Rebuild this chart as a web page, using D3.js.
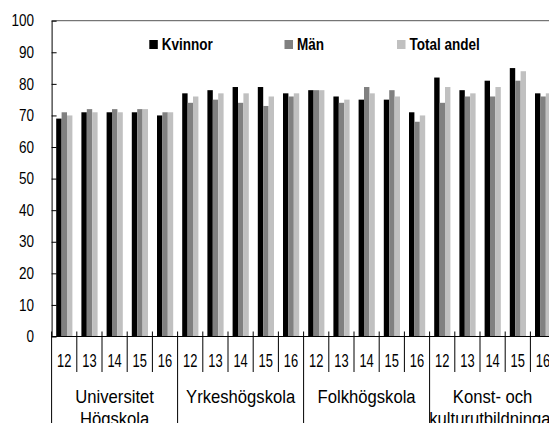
<!DOCTYPE html>
<html>
<head>
<meta charset="utf-8">
<script src="https://cdn.jsdelivr.net/npm/d3@7"></script>
<style>
body { margin: 0; background: #fff; }
text { font-family: "Liberation Sans", Arial, sans-serif; fill: #000; }
</style>
</head>
<body>
<script>

// data
var groups = [["Universitet", "Högskola"], ["Yrkeshögskola"], ["Folkhögskola"], ["Konst- och", "kulturutbildningar"]];
var years = ["12", "13", "14", "15", "16"];
var series = ["Kvinnor", "Män", "Total andel"];
var colors = ["#000000", "#808080", "#c0c0c0"];
var yTicks = [0, 10, 20, 30, 40, 50, 60, 70, 80, 90, 100];

var kvinnor = [69, 71, 71, 71, 70, 77, 78, 79, 79, 77, 78, 76, 75, 75, 71, 82, 78, 81, 85, 77];
var man     = [71, 72, 72, 72, 71, 74, 75, 74, 73, 76, 78, 74, 79, 78, 68, 74, 76, 76, 81, 76];
var total   = [70, 71, 71, 72, 71, 76, 77, 77, 76, 77, 78, 75, 77, 76, 70, 79, 77, 79, 84, 77];

var width = 549, height = 423;

var svg = d3.select('body').append('svg')
    .attr("width", width)
    .attr("height", height);

// squeeze text sideways, the original uses a condensed face
function narrow(x, y, sx) {
    return 'translate(' + x + ',' + y + ') scale(' + sx + ',1)';
}

// one category per group/year pair
var cats = [];
var i, j;
for (i = 0; i < groups.length; i++) {
    for (j = 0; j < years.length; j++) {
        cats.push({g: i, year: years[j], idx: cats.length});
    }
}

var left = 51.6, catW = 25.2;
var x0 = d3.scaleBand()
    .domain(cats.map(function(d){return d.idx}))
    .range([left, left + catW * cats.length])
    .padding(0);

var x1 = d3.scaleBand()
    .domain(series)
    .range([4.6, 20.8])
    .padding(0);

var y = d3.scaleLinear()
    .domain([0, 100])
    .range([336.5, 20.7]);

var values = [kvinnor, man, total];

//bars
var catG = svg.selectAll('g.cat')
    .data(cats)
    .enter()
    .append('g')
    .attr('class', 'cat')
    .attr('transform', function(d){return 'translate(' + x0(d.idx) + ',0)'});

catG.selectAll('rect')
    .data(function(d){return series.map(function(s, k){return {s: s, k: k, v: values[k][d.idx]}})})
    .enter()
    .append('rect')
    .attr('x', function(d){return x1(d.s)})
    .attr('width', x1.bandwidth())
    .attr('y', function(d){return y(d.v)})
    .attr('height', function(d){return y(0) - y(d.v)})
    .style('fill', function(d){return colors[d.k]});

//top frame line
svg.append('line')
    .attr('x1', left).attr('x2', width)
    .attr('y1', y(100)).attr('y2', y(100))
    .style('stroke', '#555')
    .style('stroke-width', 1);

//y axis, ticks pointing inside
var yAxis = d3.axisLeft(y)
    .tickValues(yTicks)
    .tickSizeInner(-5)
    .tickSizeOuter(0)
    .tickPadding(17.5);

var yg = svg.append('g')
    .attr('transform', 'translate(' + left + ',0)')
    .call(yAxis);
yg.selectAll('text')
    .attr('font-size', '16.3px')
    .attr('x', 0)
    .attr('transform', narrow(-17.5, 0, 0.83));
yg.selectAll('line, path').style('stroke', '#000');

//baseline
svg.append('line')
    .attr('x1', left).attr('x2', width)
    .attr('y1', y(0)).attr('y2', y(0))
    .style('stroke', '#000');

//category dividers, longer ones between groups
var bounds = cats.map(function(d){return x0(d.idx)});
bounds.push(x0(cats.length - 1) + x0.bandwidth());

svg.selectAll('line.div')
    .data(bounds)
    .enter()
    .append('line')
    .attr('class', 'div')
    .attr('x1', function(d){return d}).attr('x2', function(d){return d})
    .attr('y1', y(0) - 5)
    .attr('y2', function(d, k){return k % years.length === 0 ? height : 372})
    .style('stroke', '#000');

//year labels
svg.selectAll('text.year')
    .data(cats)
    .enter()
    .append('text')
    .attr('class', 'year')
    .attr('transform', function(d){return narrow(x0(d.idx) + x0.bandwidth() / 2, 366.7, 0.73)})
    .attr('text-anchor', 'middle')
    .attr('font-size', '17.7px')
    .text(function(d){return d.year});

//group labels
var gl = svg.selectAll('text.group')
    .data(groups)
    .enter()
    .append('text')
    .attr('class', 'group')
    .attr('text-anchor', 'middle')
    .attr('font-size', '18.5px')
    .attr('transform', function(d, k){
        return narrow(x0(k * years.length) + x0.bandwidth() * years.length / 2, 403.3, 0.9);
    });

gl.selectAll('tspan')
    .data(function(d){return d})
    .enter()
    .append('tspan')
    .attr('x', 0)
    .attr('dy', function(d, k){return k === 0 ? 0 : 22})
    .text(function(d){return d});

//legend
var legendX = [149.3, 284.5, 397];
var leg = svg.selectAll('g.legend')
    .data(series)
    .enter()
    .append('g')
    .attr('class', 'legend')
    .attr('transform', function(d, k){return 'translate(' + legendX[k] + ',40)'});

leg.append('rect')
    .attr('width', 8.5).attr('height', 9)
    .style('fill', function(d, k){return colors[k]});

leg.append('text')
    .attr('transform', narrow(12.5, 10, 0.83))
    .attr('font-size', '16.3px')
    .attr('font-weight', 'bold')
    .text(function(d){return d});

</script>
</body>
</html>
